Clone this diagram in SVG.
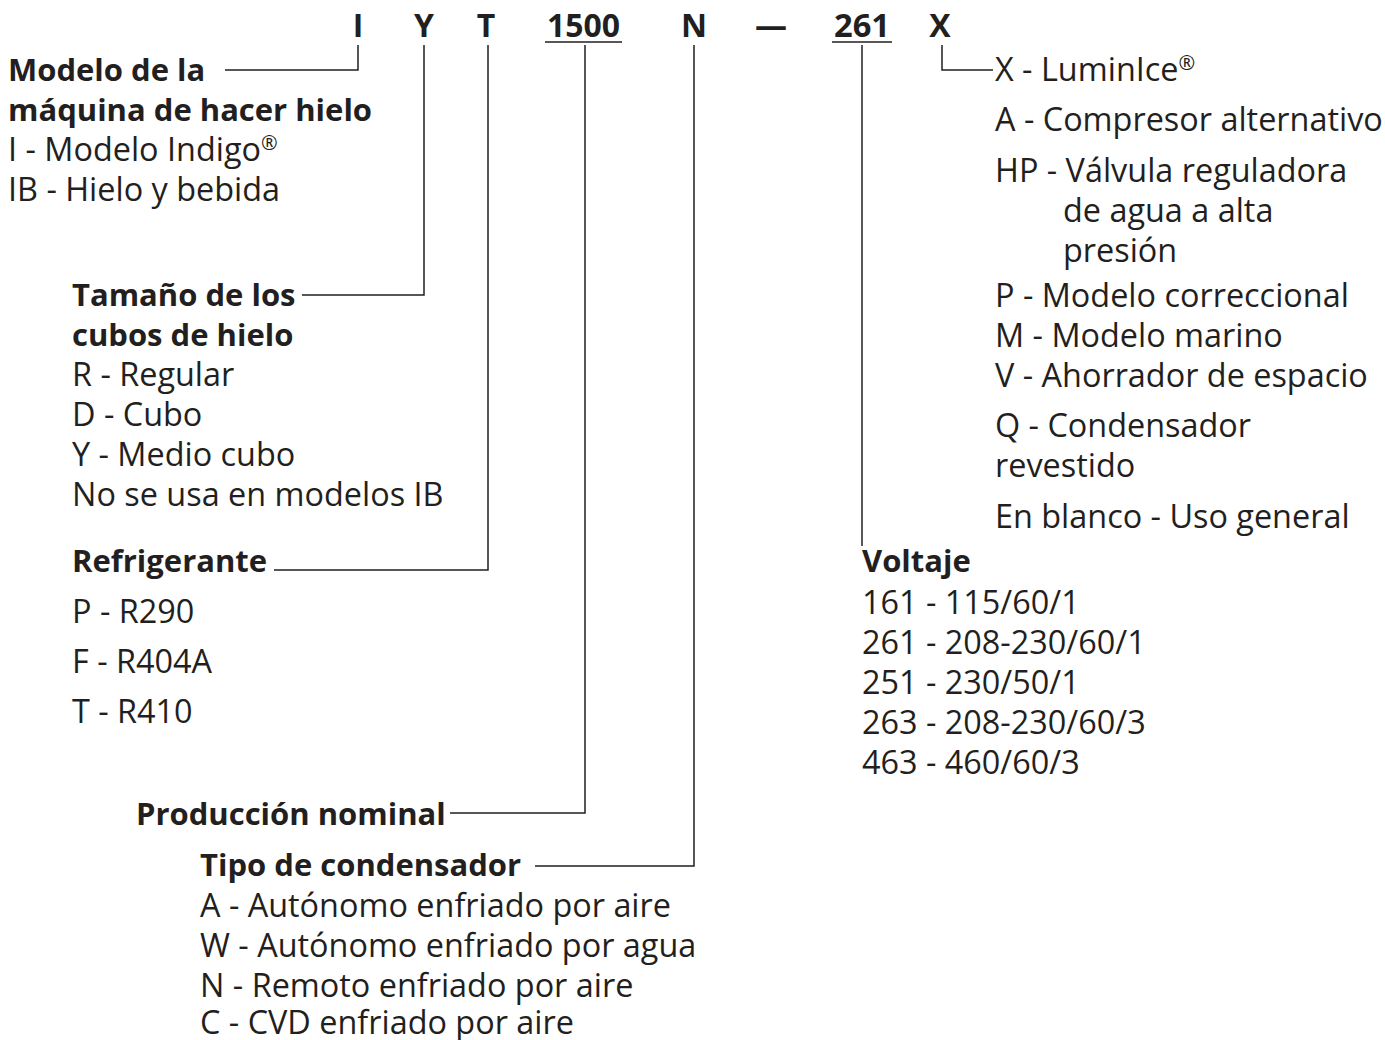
<svg xmlns="http://www.w3.org/2000/svg" width="1385" height="1040" viewBox="0 0 1385 1040">
<style>
text{font-family:"Open Sans","Noto Sans","Liberation Sans",sans-serif;font-size:32.4px;fill:#231f20}
.b{font-weight:bold;font-size:31px}
.top{font-weight:bold;font-size:32px}
.c{text-anchor:middle}
.reg{font-size:20px}
.cn{fill:none;stroke:#231f20;stroke-width:1.5}
</style>
<rect width="1385" height="1040" fill="#fff"/>
<g id="code">
<text class="top c" x="358" y="37">I</text>
<text class="top c" x="424" y="37">Y</text>
<text class="top c" x="486" y="37">T</text>
<text class="top" x="547" y="37" textLength="73" lengthAdjust="spacingAndGlyphs">1500</text>
<text class="top c" x="694" y="37">N</text>
<text class="top c" x="771" y="37">—</text>
<text class="top" x="834" y="37" textLength="56" lengthAdjust="spacingAndGlyphs">261</text>
<text class="top c" x="940" y="37">X</text>
<line class="cn" x1="545" y1="42" x2="622" y2="42"/>
<line class="cn" x1="832" y1="42" x2="892" y2="42"/>
</g>
<g id="connectors">
<polyline class="cn" points="358,45 358,70 225,70"/>
<polyline class="cn" points="424,45 424,295 302,295"/>
<polyline class="cn" points="488,45 488,570 274,570"/>
<polyline class="cn" points="585,45 585,813 450,813"/>
<polyline class="cn" points="694,45 694,866 535,866"/>
<polyline class="cn" points="862,45 862,546"/>
<polyline class="cn" points="942,45 942,70 993,70"/>
</g>
<g id="modelo">
<text class="b" x="8" y="81">Modelo de la</text>
<text class="b" x="8" y="121">máquina de hacer hielo</text>
<text x="8" y="161">I - Modelo Indigo<tspan class="reg" dy="-11">®</tspan></text>
<text x="8" y="201">IB - Hielo y bebida</text>
</g>
<g id="tamano">
<text class="b" x="72" y="306">Tamaño de los</text>
<text class="b" x="72" y="346">cubos de hielo</text>
<text x="72" y="386">R - Regular</text>
<text x="72" y="426">D - Cubo</text>
<text x="72" y="466">Y - Medio cubo</text>
<text x="72" y="506">No se usa en modelos IB</text>
</g>
<g id="refrigerante">
<text class="b" x="72" y="572">Refrigerante</text>
<text x="72" y="623">P - R290</text>
<text x="72" y="673">F - R404A</text>
<text x="72" y="723">T - R410</text>
</g>
<g id="produccion">
<text class="b" x="136" y="825">Producción nominal</text>
</g>
<g id="condensador">
<text class="b" x="200" y="876">Tipo de condensador</text>
<text x="200" y="917">A - Autónomo enfriado por aire</text>
<text x="200" y="957">W - Autónomo enfriado por agua</text>
<text x="200" y="997">N - Remoto enfriado por aire</text>
<text x="200" y="1034">C - CVD enfriado por aire</text>
</g>
<g id="opciones">
<text x="995" y="81">X - LuminIce<tspan class="reg" dy="-11">®</tspan></text>
<text x="995" y="131">A - Compresor alternativo</text>
<text x="995" y="182">HP - Válvula reguladora</text>
<text x="1063" y="222">de agua a alta</text>
<text x="1063" y="262">presión</text>
<text x="995" y="307">P - Modelo correccional</text>
<text x="995" y="347">M - Modelo marino</text>
<text x="995" y="387">V - Ahorrador de espacio</text>
<text x="995" y="437">Q - Condensador</text>
<text x="995" y="477">revestido</text>
<text x="995" y="528">En blanco - Uso general</text>
</g>
<g id="voltaje">
<text class="b" x="862" y="572">Voltaje</text>
<text x="862" y="614">161 - 115/60/1</text>
<text x="862" y="654">261 - 208-230/60/1</text>
<text x="862" y="694">251 - 230/50/1</text>
<text x="862" y="734">263 - 208-230/60/3</text>
<text x="862" y="774">463 - 460/60/3</text>
</g>
</svg>
